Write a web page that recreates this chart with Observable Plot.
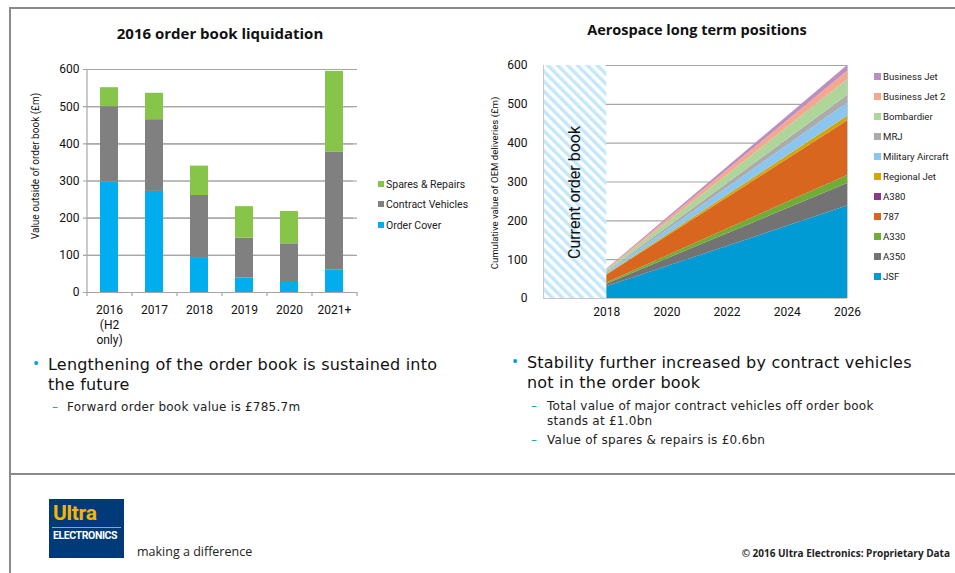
<!DOCTYPE html>
<html><head><meta charset="utf-8">
<script src="https://cdn.jsdelivr.net/npm/d3@7"></script>
<script src="https://cdn.jsdelivr.net/npm/@observablehq/plot@0.6"></script>
<style>
body{margin:0;background:#fff;}
#page{position:relative;width:955px;height:573px;overflow:hidden;font-family:Roboto,sans-serif;color:#111;background:#fff;}
.abs{position:absolute;white-space:nowrap;}
.hline{position:absolute;height:2px;background:#8a8a8a;}
.vline{position:absolute;width:2px;background:#8a8a8a;}
.title{font-family:"Open Sans",sans-serif;font-weight:bold;font-size:15px;color:#111;transform:translate(-50%,-50%);}
.leg{font-size:10.5px;color:#222;display:flex;align-items:center;}
.leg i{display:inline-block;width:6px;height:6px;margin-right:2px;}
.bul{color:#00a0e0;}
.main{font-family:"DejaVu Sans",sans-serif;font-size:16px;line-height:19.5px;letter-spacing:0.2px;color:#111;}
.sub{font-family:"DejaVu Sans",sans-serif;font-size:12px;line-height:14.5px;letter-spacing:0.25px;color:#222;}
</style></head><body><div id="page">
<div class="hline" style="left:10px;top:7px;width:945px"></div>
<div class="vline" style="left:9px;top:7px;height:566px"></div>
<div class="hline" style="left:10px;top:473px;width:945px"></div>
<div id="left" class="abs" style="left:0;top:0"></div>
<div id="right" class="abs" style="left:480px;top:0"></div>
<div class="abs title" style="left:220px;top:33px">2016 order book liquidation</div>
<div class="abs title" style="left:697px;top:29px;font-size:14.5px">Aerospace long term positions</div>
<div class="abs" style="left:35px;top:166px;font-size:10px;color:#111;transform:translate(-50%,-50%) rotate(-90deg)">Value outside of order book (£m)</div>
<div class="abs" style="left:494px;top:183px;font-size:9.6px;color:#111;transform:translate(-50%,-50%) rotate(-90deg)">Cumulative value of OEM deliveries (£m)</div>
<div id="legL"></div>
<div id="legR"></div>
<div class="abs bul" style="left:33px;top:353px;font-size:18px">•</div>
<div class="abs main" style="left:48px;top:355px">Lengthening of the order book is sustained into<br>the future</div>
<div class="abs sub" style="left:52px;top:400px"><span class="bul">–</span><span style="position:absolute;left:15px">Forward order book value is £785.7m</span></div>
<div class="abs bul" style="left:512px;top:351px;font-size:18px">•</div>
<div class="abs main" style="left:527px;top:353px;line-height:20px">Stability further increased by contract vehicles<br>not in the order book</div>
<div class="abs sub" style="left:531px;top:399px"><span class="bul">–</span><span style="position:absolute;left:16px">Total value of major contract vehicles off order book<br>stands at £1.0bn</span></div>
<div class="abs sub" style="left:531px;top:433px"><span class="bul">–</span><span style="position:absolute;left:16px">Value of spares &amp; repairs is £0.6bn</span></div>
<div class="abs" style="left:49px;top:499px;width:75px;height:59px;background:#003a79">
  <div class="abs" style="left:4px;top:2px;font-size:21px;font-weight:bold;color:#f5b400;letter-spacing:-0.3px">Ultra</div>
  <div class="abs" style="left:3px;top:28px;width:69px;height:1px;background:#c9a23a"></div>
  <div class="abs" style="left:4px;top:30px;font-size:10.5px;font-weight:bold;color:#fff;letter-spacing:-0.4px">ELECTRONICS</div>
</div>
<div class="abs" style="left:137px;top:543px;font-family:'Open Sans',sans-serif;font-size:12.5px;color:#222">making a difference</div>
<div class="abs" style="right:5px;top:546px;font-family:'Open Sans',sans-serif;font-size:10px;font-weight:bold;color:#222">© 2016 Ultra Electronics: Proprietary Data</div>
</div>
<script>
// ---- Left chart data ----
const years = ["2016\n(H2\nonly)", "2017", "2018", "2019", "2020", "2021+"];
const orderCover = [297, 272, 94, 39, 27, 60];
const contractVehicles = [203, 193, 167, 107, 104, 317];
const sparesRepairs = [51, 71, 79, 85, 87, 218];
const leftSeries = ["Order Cover", "Contract Vehicles", "Spares & Repairs"];
const leftColors = ["#00aeef", "#808080", "#86c44a"];
const leftTicks = [0, 100, 200, 300, 400, 500, 600];

// ---- Right chart data ----
const aeroYears = [2018, 2026];
const aeroSeries = ["JSF", "A350", "A330", "787", "A380", "Regional Jet", "Military Aircraft", "MRJ", "Bombardier", "Business Jet 2", "Business Jet"];
const aero2018 = [30, 7, 3, 20, 0.2, 1.5, 4, 2, 4, 2, 1.5];
const aero2026 = [238, 58, 21, 140, 1, 11, 34, 20, 40, 22, 15];
const aeroColors = ["#009bd5", "#737373", "#70ad37", "#d9661f", "#8b3a8b", "#d4a600", "#8ac6f0", "#ababab", "#aed69b", "#f5a88f", "#bd8ec0"];
const rightTicksY = [0, 100, 200, 300, 400, 500, 600];
const rightTicksX = [2018, 2020, 2022, 2024, 2026];
const xStart = 2015.9;
const currentOrderBook = [{from: xStart, to: 2018, label: "Current order book"}];

const grid = "#a6a6a6";
const leftData = [];
years.forEach((yr, i) => {
  leftData.push({year: yr, series: leftSeries[0], value: orderCover[i]});
  leftData.push({year: yr, series: leftSeries[1], value: contractVehicles[i]});
  leftData.push({year: yr, series: leftSeries[2], value: sparesRepairs[i]});
});
const step = 45, tickLen = -11;
const left = Plot.plot({
  width: 480, height: 350, marginLeft: 87, marginRight: 123, marginTop: 69, marginBottom: 58,
  style: {fontFamily: "Roboto, sans-serif", fontSize: "12px", color: "#111", background: "transparent"},
  x: {domain: years, paddingInner: 0.6, paddingOuter: 0.3, axis: null},
  y: {domain: [0, 600], axis: null},
  color: {domain: leftSeries, range: leftColors},
  marks: [
    Plot.ruleY(leftTicks, {stroke: grid, strokeWidth: 1.2}),
    Plot.ruleY(leftTicks, {stroke: grid, strokeWidth: 1.2, dx: -4}),
    Plot.ruleX([years[0]], {dx: -step / 2, y1: 0, y2: 600, stroke: grid, strokeWidth: 1.2}),
    Plot.ruleX(years, {dx: -step / 2, y1: 0, y2: tickLen, stroke: grid, strokeWidth: 1.2}),
    Plot.ruleX([years[years.length - 1]], {dx: step / 2, y1: 0, y2: tickLen, stroke: grid, strokeWidth: 1.2}),
    Plot.barY(leftData, {x: "year", y: "value", fill: "series"}),
    Plot.text(leftTicks, {y: d => d, text: d => String(d), frameAnchor: "left", dx: -8, textAnchor: "end", fill: "#111"}),
    Plot.text(years, {x: d => d, text: d => d, frameAnchor: "bottom", dy: 11, lineAnchor: "top", lineHeight: 1.25, fill: "#111"})
  ]
});
document.getElementById("left").appendChild(left);

const aeroData = [];
aeroSeries.forEach((s, i) => {
  aeroData.push({year: aeroYears[0], series: s, value: aero2018[i]});
  aeroData.push({year: aeroYears[1], series: s, value: aero2026[i]});
});
const right = Plot.plot({
  width: 475, height: 340, marginLeft: 63, marginRight: 108, marginTop: 65, marginBottom: 42,
  style: {fontFamily: "Roboto, sans-serif", fontSize: "12px", color: "#111", background: "transparent"},
  x: {domain: [xStart, 2026], axis: null},
  y: {domain: [0, 600], axis: null},
  color: {domain: aeroSeries, range: aeroColors},
  marks: [
    Plot.ruleY(rightTicksY, {stroke: grid, strokeWidth: 1.2}),
    Plot.areaY(aeroData, {x: "year", y: "value", fill: "series"}),
    Plot.rect(currentOrderBook, {x1: "from", x2: "to", y1: 0, y2: 600, fill: "url(#hatch)"}),
    Plot.ruleX([xStart, 2026], {stroke: "#c8c8c8", strokeWidth: 1}),
    Plot.ruleY([0], {stroke: "#c8c8c8", strokeWidth: 1.2}),
    Plot.text(currentOrderBook, {x: d => (d.from + d.to) / 2, y: 273, text: "label", rotate: -90, fontSize: 16, fill: "#111"}),
    Plot.text(rightTicksY, {y: d => d, text: d => String(d), frameAnchor: "left", dx: -16, textAnchor: "end", fill: "#111"}),
    Plot.text(rightTicksX, {x: d => d, text: d => String(d), frameAnchor: "bottom", dy: 17, fill: "#111"})
  ]
});
const defs = document.createElementNS("http://www.w3.org/2000/svg", "defs");
defs.innerHTML = '<pattern id="hatch" patternUnits="userSpaceOnUse" width="7" height="7" patternTransform="rotate(-45)"><rect width="7" height="7" fill="#ffffff"/><rect width="3.5" height="7" fill="#c4e8fa"/></pattern>';
right.insertBefore(defs, right.firstChild);
document.getElementById("right").appendChild(right);

// legends
const legL = document.getElementById("legL");
const lRows = [[leftSeries[2], leftColors[2], 184], [leftSeries[1], leftColors[1], 204], [leftSeries[0], leftColors[0], 225]];
lRows.forEach(([name, col, y]) => {
  const d = document.createElement("div");
  d.className = "abs leg";
  d.style.left = "378px"; d.style.top = (y - 7) + "px"; d.style.height = "14px";
  d.innerHTML = `<i style="background:${col}"></i>${name.replace("&", "&amp;")}`;
  legL.appendChild(d);
});
const legR = document.getElementById("legR");
aeroSeries.slice().reverse().forEach((name, k) => {
  const i = aeroSeries.indexOf(name);
  const d = document.createElement("div");
  d.className = "abs leg";
  d.style.left = "874px"; d.style.top = (76 + 20 * k - 7) + "px"; d.style.height = "14px";
  d.style.fontSize = "9.6px";
  d.innerHTML = `<i style="background:${aeroColors[i]};width:7px;height:7px"></i>${name}`;
  legR.appendChild(d);
});
</script>
</body></html>
